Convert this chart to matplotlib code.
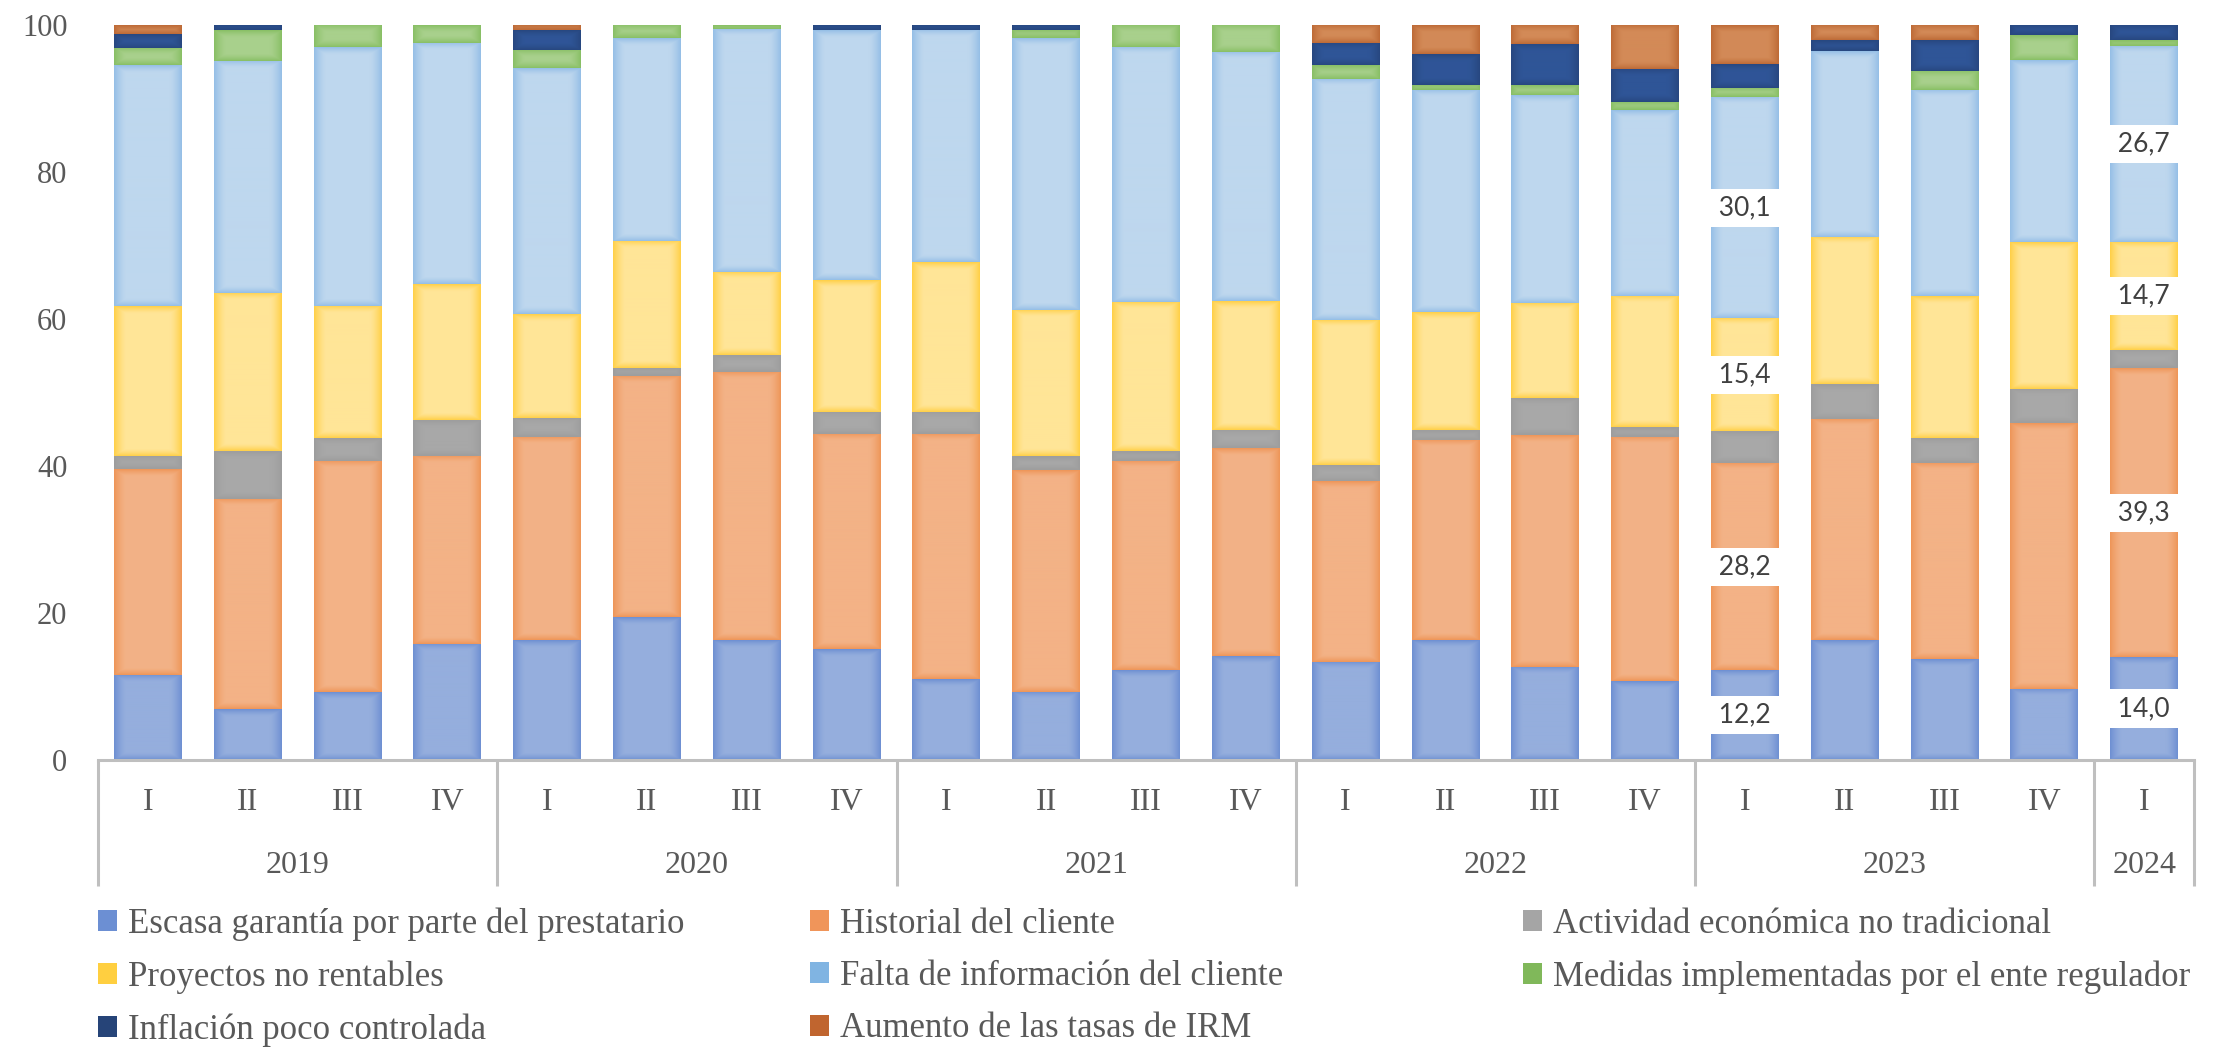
import matplotlib.pyplot as plt
from matplotlib.patches import Patch
from matplotlib.colors import to_rgb
import numpy as np

years = ['2019', '2020', '2021', '2022', '2023', '2024']
quarters_per_year = [4, 4, 4, 4, 4, 1]
quarter_names = ['I', 'II', 'III', 'IV']

series_names = [
    'Escasa garantía por parte del prestatario',
    'Historial del cliente',
    'Actividad económica no tradicional',
    'Proyectos no rentables',
    'Falta de información del cliente',
    'Medidas implementadas por el ente regulador',
    'Inflación poco controlada',
    'Aumento de las tasas de IRM',
]

escasa = [11.6, 6.9, 9.2, 15.8, 16.3, 19.4, 16.3, 15.1, 11.0, 9.3, 12.2,
          14.1, 13.4, 16.3, 12.7, 10.7, 12.2, 16.3, 13.7, 9.7, 14.0]
historial = [28.0, 28.6, 31.5, 25.6, 27.7, 32.8, 36.5, 29.3, 33.4, 30.1, 28.5,
             28.3, 24.5, 27.3, 31.5, 33.3, 28.2, 30.1, 26.7, 36.1, 39.3]
actividad = [1.8, 6.5, 3.1, 4.8, 2.6, 1.1, 2.3, 3.0, 3.0, 1.9, 1.3,
             2.5, 2.2, 1.3, 5.0, 1.3, 4.3, 4.7, 3.4, 4.7, 2.5]
proyectos = [20.4, 21.5, 18.0, 18.5, 14.1, 17.3, 11.3, 17.9, 20.3, 19.9, 20.3,
             17.5, 19.8, 16.0, 13.0, 17.9, 15.4, 20.1, 19.3, 20.0, 14.7]
falta = [32.7, 31.6, 35.2, 32.9, 33.4, 27.6, 33.1, 34.0, 31.6, 37.0, 34.7,
         33.9, 32.8, 30.3, 28.3, 25.2, 30.1, 25.3, 28.1, 24.7, 26.7]
medidas = [2.4, 4.2, 3.0, 2.4, 2.5, 1.8, 0.5, 0.0, 0.0, 1.1, 3.0,
           3.7, 1.8, 0.7, 1.3, 1.1, 1.3, 0.0, 2.6, 3.4, 0.7]
inflacion = [1.9, 0.7, 0.0, 0.0, 2.7, 0.0, 0.0, 0.7, 0.7, 0.7, 0.0,
             0.0, 3.0, 4.2, 5.6, 4.5, 3.2, 1.4, 4.1, 1.4, 2.1]
aumento = [1.2, 0.0, 0.0, 0.0, 0.7, 0.0, 0.0, 0.0, 0.0, 0.0, 0.0,
           0.0, 2.5, 3.9, 2.6, 6.0, 5.3, 2.1, 2.1, 0.0, 0.0]

# bars that carry data labels (2023 I and 2024 I) and which series
labelled_bars = [16, 20]
labelled_series = [0, 1, 3, 4]

face_colors = ['#95aedd', '#f3b286', '#a8a8a8', '#ffe597',
               '#bed7ee', '#a8d08c', '#2f5597', '#d38a57']
edge_colors = ['#6d8fd2', '#ee9557', '#9d9d9d', '#ffcf45',
               '#94bee6', '#88bf64', '#27477f', '#bd6a36']
legend_colors = ['#6c8fd3', '#f0955a', '#a5a5a5', '#ffcf40',
                 '#80b4e2', '#80b85a', '#264478', '#c0652f']

text_color = '#595959'
serif = 'Liberation Serif'

data = [escasa, historial, actividad, proyectos, falta, medidas, inflacion, aumento]
n = len(escasa)
x = np.arange(n)

fig = plt.figure(figsize=(22.18, 10.48), dpi=100)
ax = fig.add_axes([0.0442, 0.2748, 0.9450, 0.7013])
ax.set_xlim(-0.5, n - 0.5)
ax.set_ylim(0, 100)


def shade(patch, face, edge):
    # soft inner glow like the office bar style: darker rim, lighter centre
    x0, y0 = patch.get_x(), patch.get_y()
    w, h = patch.get_width(), patch.get_height()
    if h <= 0:
        return
    px_w = 68
    px_h = max(2, int(round(h * 7.35)))
    jj = np.arange(px_w) + 0.5
    ii = np.arange(px_h) + 0.5
    dx = np.minimum(jj, px_w - jj)[None, :]
    dy = np.minimum(ii, px_h - ii)[:, None]
    d = np.minimum(dx, dy * 1.6)
    t = np.clip(1 - d / 12.0, 0, 1) ** 1.4
    f, e = np.array(to_rgb(face)), np.array(to_rgb(edge))
    img = f[None, None, :] * (1 - t[..., None]) + e[None, None, :] * t[..., None]
    im = ax.imshow(img, extent=[x0, x0 + w, y0, y0 + h], aspect='auto',
                   interpolation='bilinear', zorder=2.5, origin='lower')
    im.set_clip_path(patch)


bottom = np.zeros(n)
for i, vals in enumerate(data):
    vals = np.array(vals)
    bars = ax.bar(x, vals, width=0.68, bottom=bottom, color=face_colors[i],
                  edgecolor='none', zorder=2)
    for p in bars.patches:
        shade(p, face_colors[i], edge_colors[i])
    if i in labelled_series:
        for b in labelled_bars:
            ax.text(b, bottom[b] + vals[b] / 2, ' ' + f'{vals[b]:.1f}'.replace('.', ',') + ' ',
                    ha='center', va='center', fontsize=19, family='Lato',
                    color='#404040', zorder=4,
                    bbox=dict(boxstyle='square,pad=0.25', facecolor='white',
                              edgecolor='none'))
    bottom += vals

ax.set_xlim(-0.5, n - 0.5)
ax.set_ylim(0, 100)
ax.set_aspect('auto')
ax.set_yticks(range(0, 101, 20))
ax.tick_params(axis='y', length=0, pad=22, labelsize=22, labelcolor=text_color)
for lab in ax.get_yticklabels():
    lab.set_family(serif)
ax.set_xticks([])

for side in ['top', 'right', 'left']:
    ax.spines[side].set_visible(False)
ax.spines['bottom'].set_color('#bfbfbf')
ax.spines['bottom'].set_linewidth(2.2)
ax.spines['bottom'].set_zorder(3)

# two-level category axis
trans = ax.get_xaxis_transform()
pos = 0
edges = [-0.5]
for year, nq in zip(years, quarters_per_year):
    for q in range(nq):
        ax.text(pos + q, -0.058, quarter_names[q], transform=trans, ha='center',
                va='center', fontsize=23, family=serif, color=text_color)
    ax.text(pos + (nq - 1) / 2, -0.143, year, transform=trans, ha='center',
            va='center', fontsize=23, family=serif, color=text_color)
    pos += nq
    edges.append(pos - 0.5)
for e in edges:
    ax.plot([e, e], [0, -0.171], transform=trans, color='#bfbfbf',
            linewidth=2.2, clip_on=False, solid_capstyle='butt')

# legend in three columns, laid out row by row
columns = [[0, 3, 6], [1, 4, 7], [2, 5]]
col_x = [0.0442, 0.3652, 0.6867]
for cx, idx in zip(col_x, columns):
    handles = [Patch(facecolor=legend_colors[k], edgecolor='none') for k in idx]
    labels = [series_names[k] for k in idx]
    fig.legend(handles, labels, loc='upper left', bbox_to_anchor=(cx, 0.134),
               frameon=False, borderpad=0, borderaxespad=0, handlelength=0.55,
               handleheight=0.55, handletextpad=0.3, labelspacing=0.56,
               prop={'family': serif, 'size': 25}, labelcolor=text_color)

fig.savefig('out.png', dpi=100)
